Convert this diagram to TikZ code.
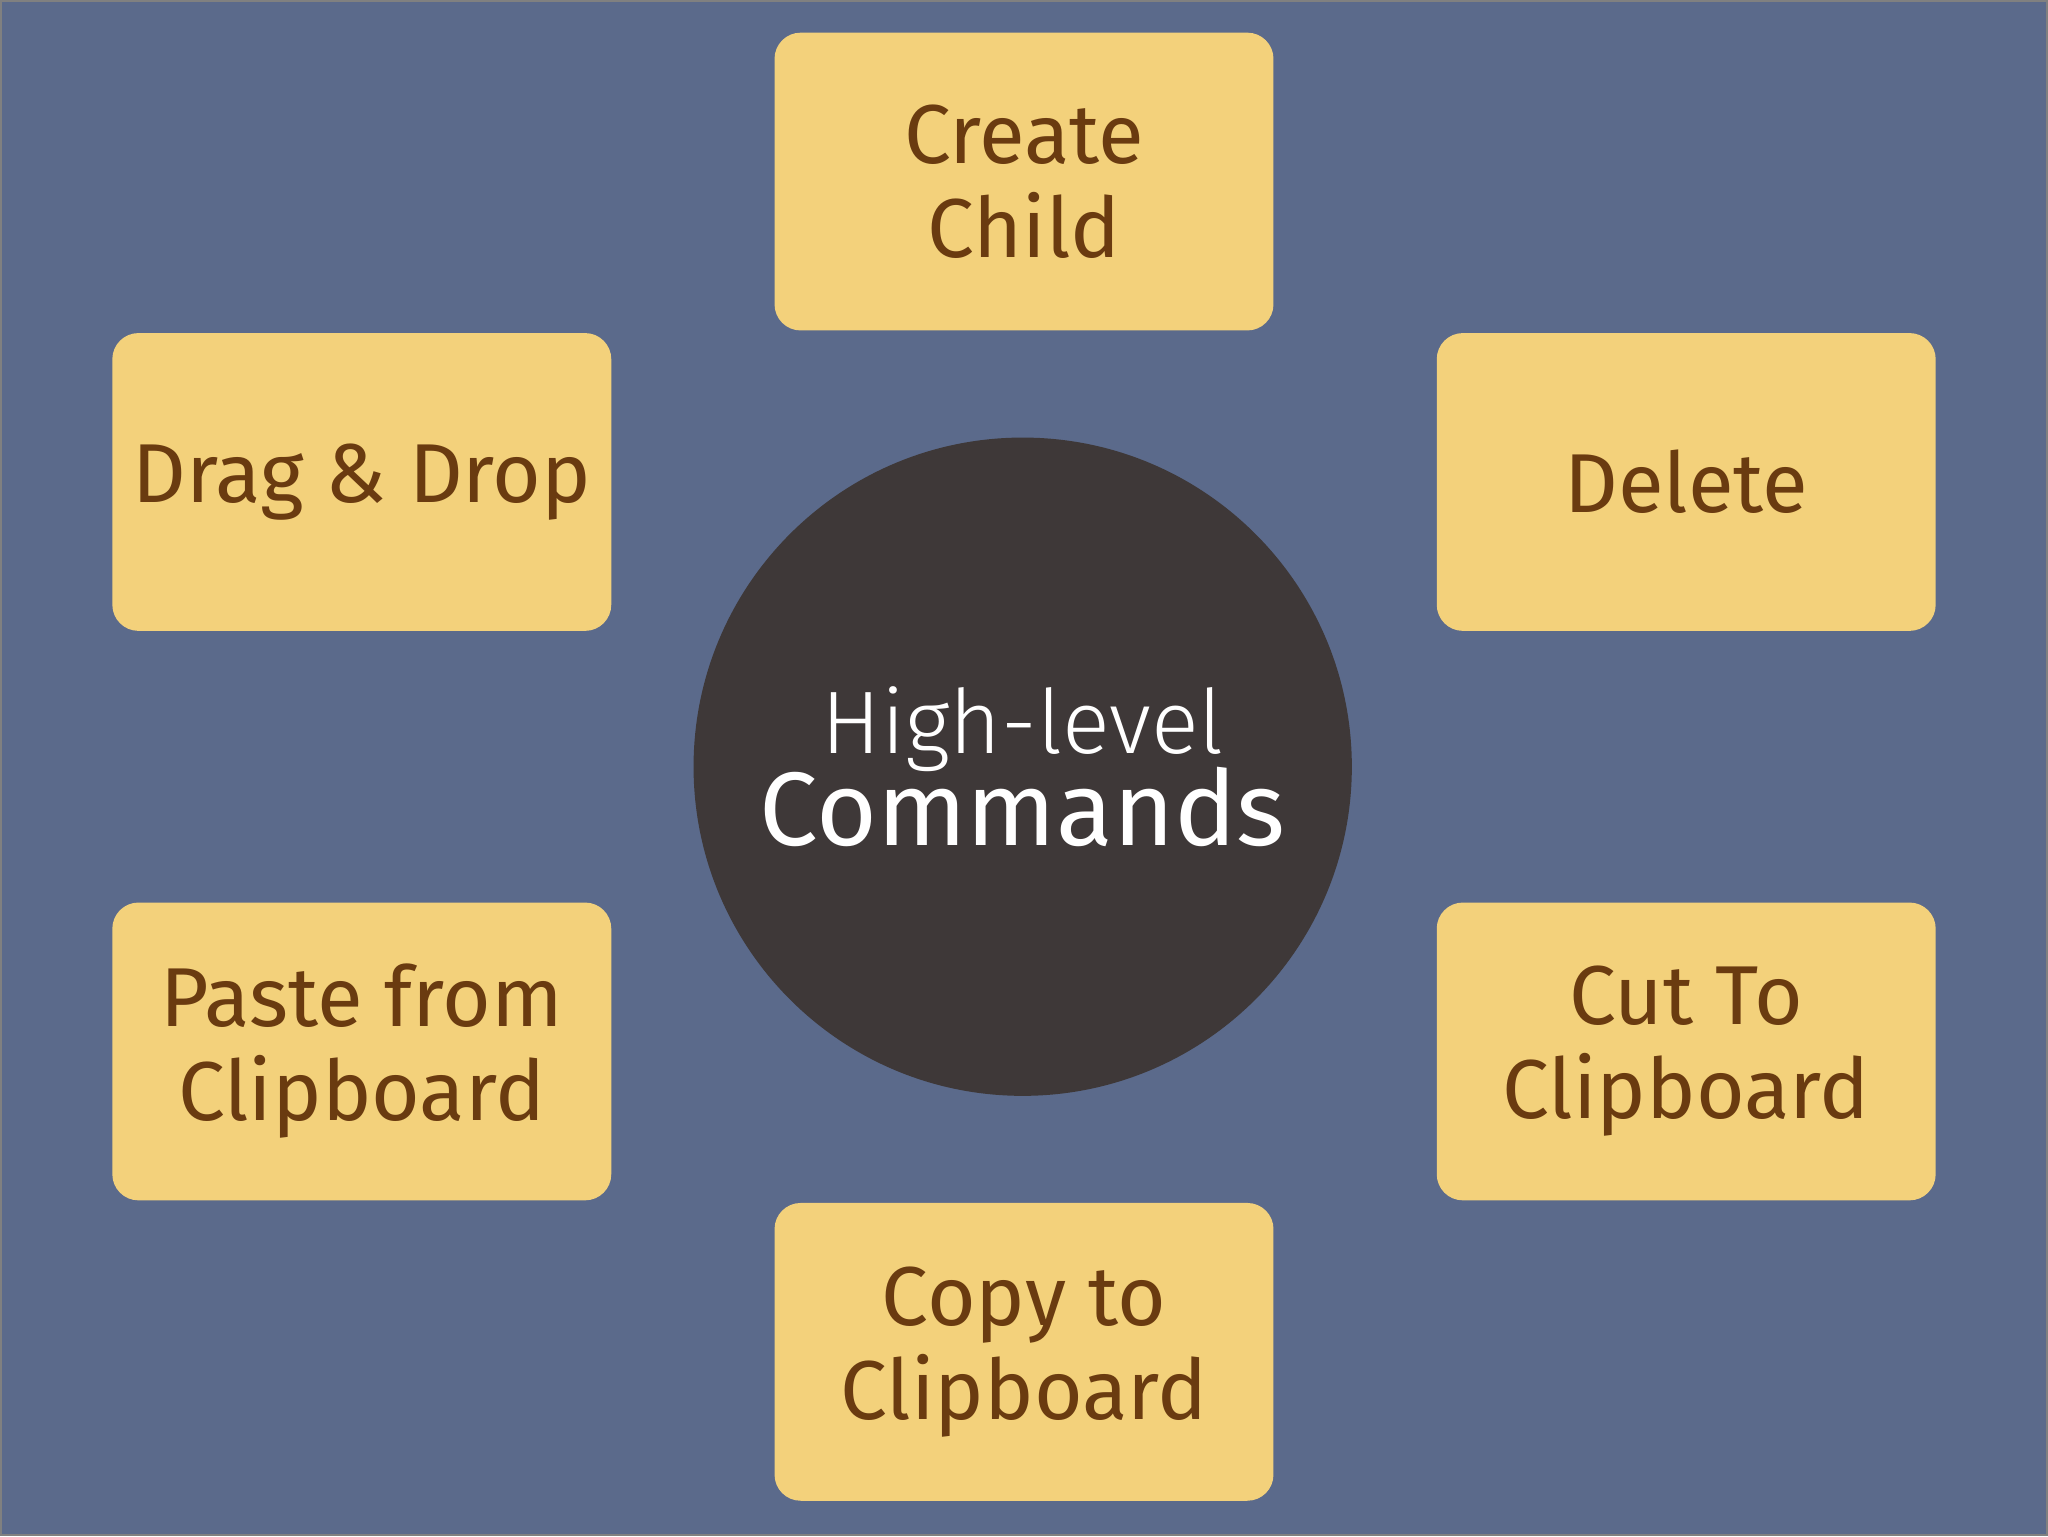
\documentclass[tikz,border=0pt]{standalone}
\usepackage{fontspec}
\setmainfont{Fira Sans}
\definecolor{bg}{HTML}{5B6A8B}
\definecolor{boxc}{HTML}{F3D17B}
\definecolor{txt}{HTML}{6A3B10}
\definecolor{circ}{HTML}{3E3838}
\begin{document}
\begin{tikzpicture}[x=1pt,y=-1pt,
  cmd/.style={fill=boxc,rounded corners=20pt,minimum width=382pt,minimum height=228pt,align=center,text=txt,font=\fontsize{64}{72}\selectfont,inner sep=0pt}]
\useasboundingbox (0,0) rectangle (1568,1176);
\fill[bg] (0,0) rectangle (1568,1176);
\draw[gray,line width=1.5pt] (0.75,0.75) rectangle (1567.25,1175.25);
\node[circle,fill=circ,minimum size=504pt,inner sep=0pt,align=center,text=white] (c) at (783,587)
  {{\fontsize{68}{80}\selectfont\addfontfeature{}\fontspec{Fira Sans Light}High-level}\\[-4pt]{\fontsize{80}{90}\selectfont Commands}};
\node[cmd] (a) at (784,139) {Create\\Child};
\node[cmd] (b) at (277,369) {Drag \& Drop};
\node[cmd] (d) at (1291,369) {Delete};
\node[cmd] (p) at (277,805) {Paste from\\Clipboard};
\node[cmd] (u) at (1291,805) {Cut To\\Clipboard};
\node[cmd] (o) at (784,1035) {Copy to\\Clipboard};
\end{tikzpicture}
\end{document}
